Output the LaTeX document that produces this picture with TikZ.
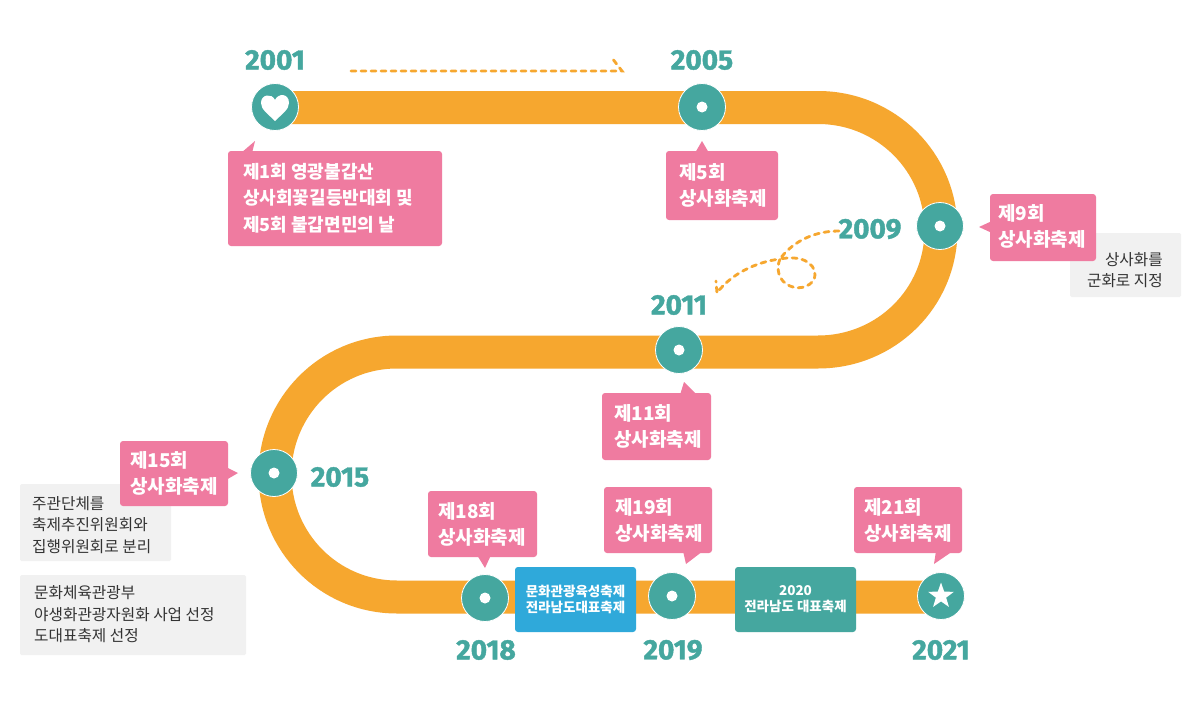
\documentclass[tikz,border=0pt]{standalone}
\usepackage{fontspec}
\usetikzlibrary{shapes.geometric}
\setmainfont{Noto Sans CJK KR}
\newfontfamily\yearfont[BoldFeatures={FakeBold=1.5}]{Fira Sans}
\definecolor{roadc}{HTML}{F6A72F}
\definecolor{teal}{HTML}{45A79F}
\definecolor{pinkb}{HTML}{EF7BA0}
\definecolor{greyb}{HTML}{F1F1F1}
\definecolor{blueb}{HTML}{2FA9DA}
\definecolor{inkc}{HTML}{333333}
\tikzset{
 x=1pt,y=-1pt,
 roadline/.style={draw=roadc,line width=33pt},
 dot/.style={circle,fill=teal,draw=white,line width=0.8pt,minimum size=47pt,inner sep=0pt},
 hole/.style={circle,fill=white,minimum size=11pt,inner sep=0pt},
 year/.style={text=teal,font=\yearfont\bfseries\fontsize{28}{28}\selectfont,inner sep=0pt},
 pinkbox/.style={fill=pinkb,rounded corners=3pt},
 tailf/.style={fill=pinkb},
 lab/.style={text=white,font=\fontsize{19}{26}\selectfont\bfseries,align=left,anchor=west,inner sep=0pt},
 labsmall/.style={lab,font=\fontsize{18}{26.5}\selectfont\bfseries},
 greybox/.style={fill=greyb,rounded corners=1.5pt},
 note/.style={text=inkc,font=\fontsize{15.7}{21.5}\selectfont,inner sep=0pt},
 colbox/.style={rounded corners=3pt,text=white,font=\fontsize{13.5}{16}\selectfont\bfseries,align=center,inner sep=0pt},
 trail/.style={draw=roadc,line width=2.8pt,dash pattern=on 5pt off 5pt,line cap=round},
}
\begin{document}
\begin{tikzpicture}
\useasboundingbox (0,0) rectangle (1200,720);
\fill[white] (0,0) rectangle (1200,720);
% road
\draw[roadline,line cap=round] (285,107.5) -- (818,107.5) .. controls (886,107.5) and (941,162) .. (941,230) .. controls (941,298) and (886,352) .. (818,352) -- (397,352) .. controls (329,352) and (275,407) .. (275,474.5) .. controls (275,542) and (329,597) .. (397,597) -- (925,597);
% nodes
\node[dot] (n01) at (275,107) {};
\node[dot] (n05) at (702,107) {};
\node[dot] (n09) at (940,226) {};
\node[dot] (n11) at (679,350) {};
\node[dot] (n15) at (274,473) {};
\node[dot] (n18) at (485,598) {};
\node[dot] (n19) at (672,596) {};
\node[dot] (n21) at (941,596) {};
\foreach \n in {n05,n09,n11,n15,n18,n19} \node[hole] at (\n) {};
\fill[white] (275,121) .. controls (268,114) and (261,109.5) .. (261,103) .. controls (261,94) and (272,93) .. (275,100) .. controls (278,93) and (289,93) .. (289,103) .. controls (289,109.5) and (282,114) .. (275,121) -- cycle;
\node[star,star points=5,star point ratio=2.5,fill=white,minimum size=27pt,inner sep=0pt] (s21) at (941,596) {};
% years
\node[year] (y01) at (275,60) {2001};
\node[year] (y05) at (702,60) {2005};
\node[year] (y09) at (870,229) {2009};
\node[year] (y11) at (679,305) {2011};
\node[year] (y15) at (340,477) {2015};
\node[year] (y18) at (486,650) {2018};
\node[year] (y19) at (673,650) {2019};
\node[year] (y21) at (941,650) {2021};
% grey
\fill[greybox] (1070,233) rectangle (1181,297);
\node[note,align=right,anchor=east] (g1) at (1163,270) {상사화를\\군화로 지정};
\fill[greybox] (20,484) rectangle (171,561);
\node[note,align=left,anchor=west] (g2) at (32,525) {주관단체를\\축제추진위원회와\\집행위원회로 분리};
\fill[greybox] (20,575) rectangle (246,655);
\node[note,align=left,anchor=west] (g3) at (34,614.5) {문화체육관광부\\야생화관광자원화 사업 선정\\도대표축제 선정};
% pink
\fill[pinkbox] (228,151) rectangle (442,246);
\fill[tailf] (241,153) -- (255,141) -- (252,153) -- cycle;
\node[labsmall] (p01) at (243,198) {제1회 영광불갑산\\상사회꽃길등반대회 및\\제5회 불갑면민의 날};
\fill[pinkbox] (666,151) rectangle (778,220);
\fill[tailf] (695,153) -- (702,141) -- (709,153) -- cycle;
\node[lab] (p05) at (679,185) {제5회\\상사화축제};
\fill[pinkbox] (990,194) rectangle (1096,261);
\fill[tailf] (992,221) -- (979,227) -- (992,233) -- cycle;
\node[lab] (p09) at (998,226.5) {제9회\\상사화축제};
\fill[pinkbox] (602,393) rectangle (711,460);
\fill[tailf] (680,395) -- (684,382) -- (697,395) -- cycle;
\node[lab] (p11) at (614,426.5) {제11회\\상사화축제};
\fill[pinkbox] (120,441) rectangle (228,506);
\fill[tailf] (226,467) -- (238,473) -- (226,480) -- cycle;
\node[lab] (p15) at (130,473) {제15회\\상사화축제};
\fill[pinkbox] (428,491) rectangle (537,557);
\fill[tailf] (477,555) -- (485,568) -- (491,555) -- cycle;
\node[lab] (p18) at (438,524) {제18회\\상사화축제};
\fill[pinkbox] (604,487) rectangle (712,553);
\fill[tailf] (683,551) -- (686,564) -- (703,551) -- cycle;
\node[lab] (p19) at (615,520) {제19회\\상사화축제};
\fill[pinkbox] (854,487) rectangle (962,553);
\fill[tailf] (936,551) -- (934,564) -- (953,551) -- cycle;
\node[lab] (p21) at (864,520) {제21회\\상사화축제};
% coloured boxes
\node[colbox,fill=blueb,minimum width=121pt,minimum height=65pt] (b1) at (575.5,599.5) {문화관광육성축제\\전라남도대표축제};
\node[colbox,fill=teal,minimum width=121pt,minimum height=65pt] (b2) at (795.5,599.5) {2020\\전라남도 대표축제};
% trails
\draw[trail] (351,71) -- (622,71) -- (612,58);
\draw[trail] (839,231) .. controls (810,231) and (790,245) .. (780,259) .. controls (800,255) and (815,262) .. (815,275) .. controls (815,285) and (800,291) .. (790,286) .. controls (778,281) and (776,268) .. (780,259) .. controls (755,262) and (730,275) .. (717,293) -- (716,281);
\end{tikzpicture}
\end{document}
